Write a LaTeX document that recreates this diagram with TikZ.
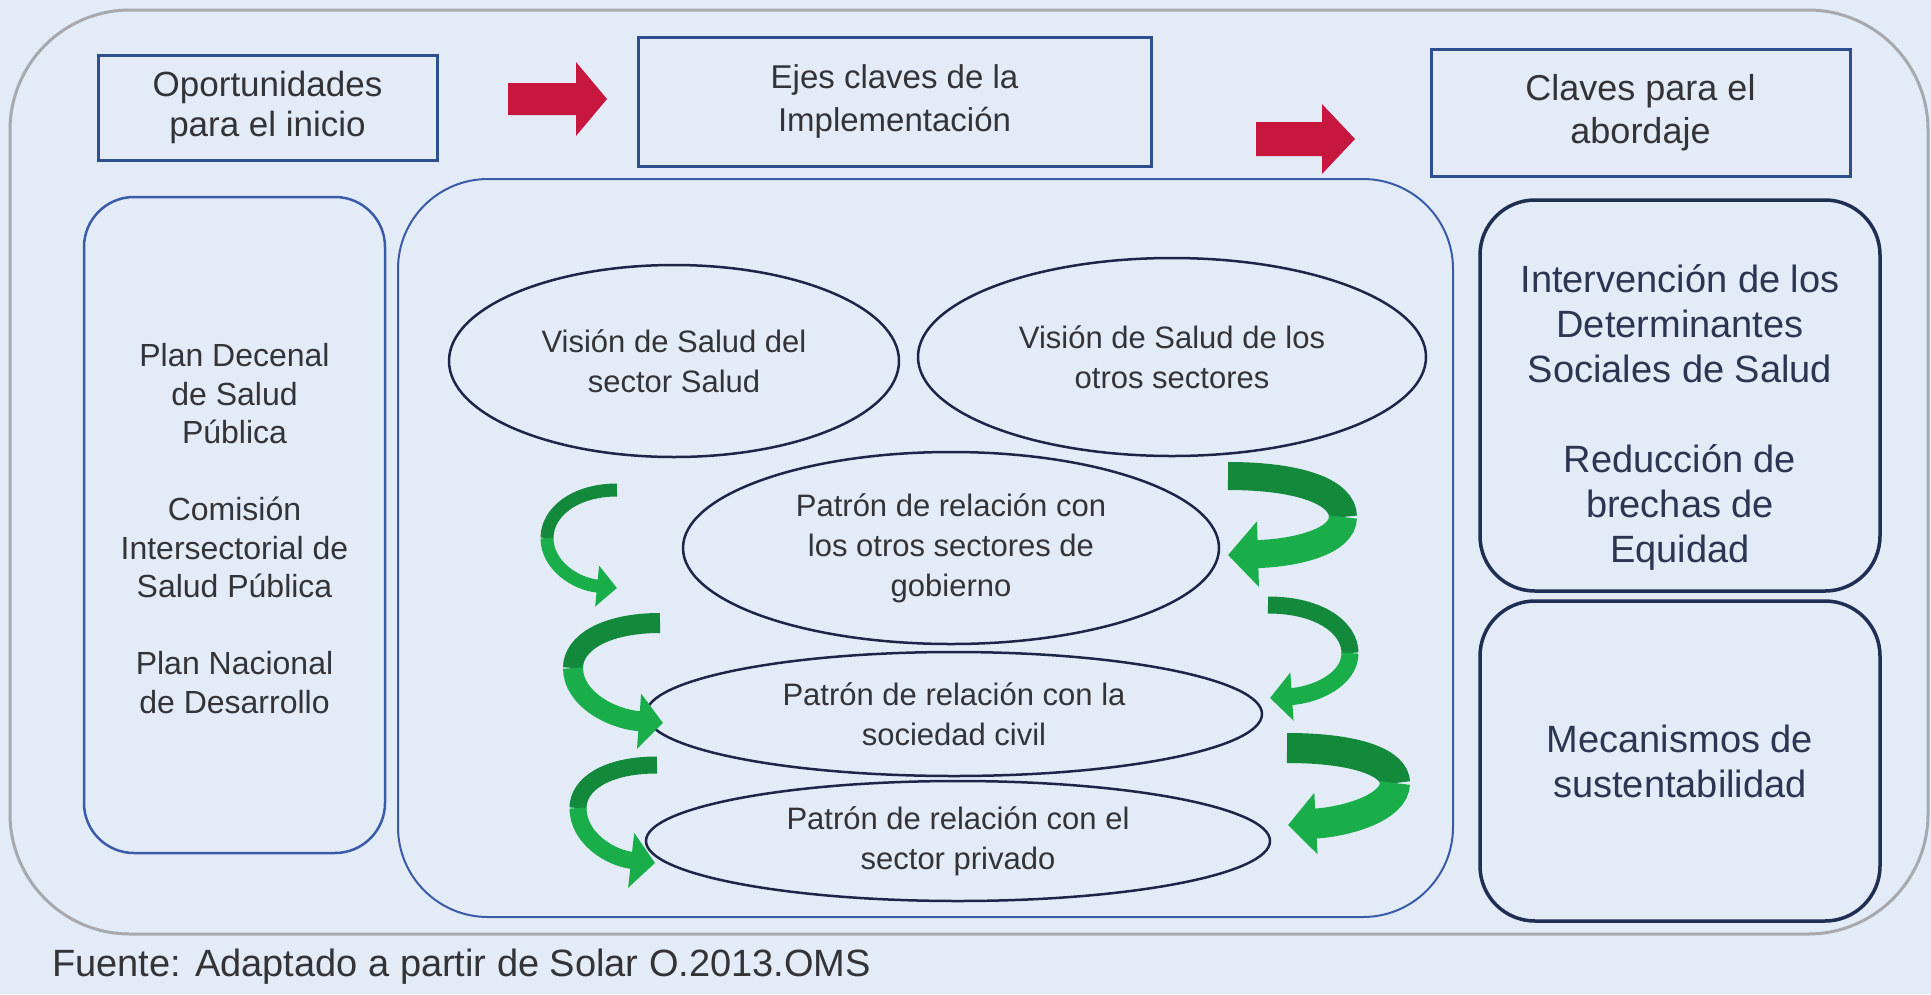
\documentclass[tikz,border=0pt]{standalone}
\usepackage{fontspec}
\setmainfont{Liberation Sans}
\usetikzlibrary{arrows.meta,shapes.geometric}
\definecolor{bgcol}{HTML}{E3EBF7}
\definecolor{outerline}{HTML}{A7A9AE}
\definecolor{boxline}{HTML}{2E4F8E}
\definecolor{blueline}{HTML}{3A5CA8}
\definecolor{navyline}{HTML}{1F2E52}
\definecolor{ellline}{HTML}{1D2548}
\definecolor{txt}{HTML}{333338}
\definecolor{txtnavy}{HTML}{2C3552}
\definecolor{arrowred}{HTML}{C8173F}
\definecolor{gdark}{HTML}{12893B}
\definecolor{glight}{HTML}{1AAE4B}
\begin{document}
\begin{tikzpicture}[x=1pt,y=-1pt,
  hdrbox/.style={draw=boxline, line width=3pt, rectangle, align=center, text=txt, inner sep=0pt},
  leftpanel/.style={draw=blueline, line width=2.5pt, rounded corners=50pt, inner sep=0pt},
  centerpanel/.style={draw=blueline, line width=2pt, rounded corners=90pt, inner sep=0pt},
  rightpanel/.style={draw=navyline, line width=3.5pt, rounded corners=55pt, inner sep=0pt},
  ell/.style={draw=ellline, line width=2.5pt, ellipse, inner sep=0pt, align=center, text=txt,
    font=\fontsize{31}{40}\selectfont},
  paneltext/.style={align=center, text=txt, font=\fontsize{32}{38.5}\selectfont, inner sep=0pt},
  righttext/.style={align=center, text=txtnavy, font=\fontsize{38}{45}\selectfont, inner sep=0pt},
  gback/.style={draw=gdark, line cap=butt},
  gfront/.style={draw=glight, line cap=butt}
]
\fill[bgcol] (0,0) rectangle (1931,994);
\useasboundingbox (0,0) rectangle (1931,994);

% outer frame
\draw[outerline, line width=3pt, rounded corners=120pt] (10,10) rectangle (1928,934);

% header boxes
\node[hdrbox, minimum width=339pt, minimum height=105pt, font=\fontsize{35}{40}\selectfont] (op) at (267.5,107.5) {Oportunidades\\para el inicio};
\node[hdrbox, minimum width=513pt, minimum height=129pt, font=\fontsize{33}{43}\selectfont] (ejes) at (894.5,101.5) {Ejes claves de la\\Implementación};
\node[hdrbox, minimum width=419pt, minimum height=127pt, font=\fontsize{36}{43}\selectfont] (claves) at (1640.5,112.5) {Claves para el\\abordaje};

% red block arrows
\fill[arrowred] (508,83) -- (576,83) -- (576,62) -- (607,99) -- (576,136) -- (576,115) -- (508,115) -- cycle;
\fill[arrowred] (1256,122) -- (1322,122) -- (1322,104) -- (1355,139) -- (1322,174) -- (1322,156) -- (1256,156) -- cycle;

% panels
\node[leftpanel, minimum width=301pt, minimum height=656pt] (left) at (234.5,525) {};
\node[centerpanel, minimum width=1055pt, minimum height=738pt] (center) at (925.5,548) {};
\node[rightpanel, minimum width=400pt, minimum height=391pt] (rup) at (1680,395.5) {};
\node[rightpanel, minimum width=400pt, minimum height=320pt] (rlow) at (1680,761) {};

% left text
\node[paneltext] (lefttext) at (234.5,528.5) {Plan Decenal\\de Salud\\Pública\\[38.5pt]Comisión\\Intersectorial de\\Salud Pública\\[38.5pt]Plan Nacional\\de Desarrollo};

% right texts
\node[righttext] (ruptext) at (1680,417) {Intervención de los\\Determinantes\\Sociales de Salud\\[45pt]Reducción de\\brechas de\\Equidad};
\node[righttext] (rlowtext) at (1680,761) {Mecanismos de\\sustentabilidad};

% ellipses
\node[ell, minimum width=450pt, minimum height=192pt] (e1) at (674,361) {Visión de Salud del\\sector Salud};
\node[ell, minimum width=508pt, minimum height=198pt] (e2) at (1172,357) {Visión de Salud de los\\otros sectores};
\node[ell, minimum width=536pt, minimum height=192pt] (e3) at (951,548) {Patrón de relación con\\los otros sectores de\\gobierno};
\node[ell, minimum width=616pt, minimum height=124pt] (e4) at (954,714) {Patrón de relación con la\\sociedad civil};
\node[ell, minimum width=624pt, minimum height=120pt] (e5) at (958,841) {Patrón de relación con el\\sector privado};

% green curved arrows, left
\draw[gback, line width=13pt] (617,490) .. controls (575,490) and (547,512) .. (547,538);
\draw[gfront, line width=13pt, -{Triangle[length=20pt,width=40pt]}] (547,538) .. controls (547,565) and (575,584) .. (617,588);

\draw[gback, line width=20pt] (660,623) .. controls (605,623) and (573,643) .. (573,668);
\draw[gfront, line width=20pt, -{Triangle[length=24pt,width=54pt]}] (573,668) .. controls (573,698) and (610,719) .. (663,723);

\draw[gback, line width=17pt] (657,765) .. controls (605,765) and (578,785) .. (578,808);
\draw[gfront, line width=17pt, -{Triangle[length=24pt,width=54pt]}] (578,808) .. controls (578,838) and (610,858) .. (655,863);

% green curved arrows, right
\draw[gback, line width=28pt] (1228,476) .. controls (1300,476) and (1343,492) .. (1343,517);
\draw[gfront, line width=28pt, -{Triangle[length=30pt,width=64pt]}] (1343,517) .. controls (1343,542) and (1295,553) .. (1228,555);

\draw[gback, line width=17pt] (1268,605) .. controls (1320,605) and (1350,628) .. (1350,653);
\draw[gfront, line width=17pt, -{Triangle[length=22pt,width=47pt]}] (1350,653) .. controls (1350,680) and (1315,695) .. (1270,698);

\draw[gback, line width=30pt] (1287,748) .. controls (1360,748) and (1395,764) .. (1395,783);
\draw[gfront, line width=30pt, -{Triangle[length=28pt,width=60pt]}] (1395,783) .. controls (1395,808) and (1345,822) .. (1288,825);

% source
\node[anchor=west, text=txt, font=\fontsize{38}{44}\selectfont, inner sep=0pt] (src) at (52,967) {Fuente: Adaptado a partir de Solar O.2013.OMS};
\end{tikzpicture}
\end{document}
